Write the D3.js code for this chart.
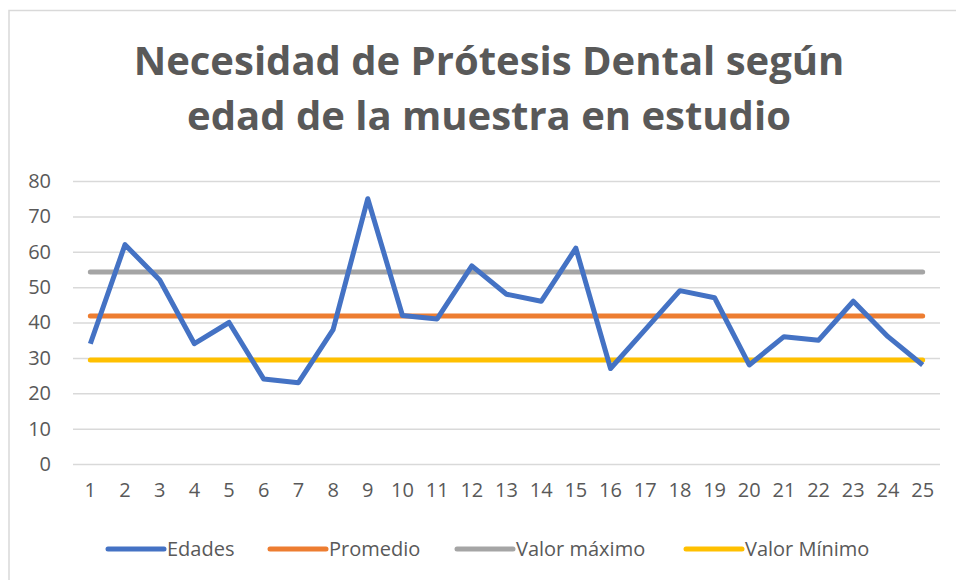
<!DOCTYPE html>
<html lang="es">
<head>
<meta charset="utf-8">
<title>Necesidad de Prótesis Dental según edad</title>
<script src="https://cdnjs.cloudflare.com/ajax/libs/d3/7.8.5/d3.min.js"></script>
<style>
  body { margin: 0; background: #fff; }
  text { font-family: "Open Sans", "Noto Sans", sans-serif; }
</style>
</head>
<body>
<script>
// data
var muestras = ["1","2","3","4","5","6","7","8","9","10","11","12","13","14","15","16","17","18","19","20","21","22","23","24","25"];
var edades = [34, 62, 52, 34, 40, 24, 23, 38, 75, 42, 41, 56, 48, 46, 61, 27, 38, 49, 47, 28, 36, 35, 46, 36, 28];
var promedio = [41.84, 41.84, 41.84, 41.84, 41.84, 41.84, 41.84, 41.84, 41.84, 41.84, 41.84, 41.84, 41.84, 41.84, 41.84, 41.84, 41.84, 41.84, 41.84, 41.84, 41.84, 41.84, 41.84, 41.84, 41.84];
var valorMax = [54.3, 54.3, 54.3, 54.3, 54.3, 54.3, 54.3, 54.3, 54.3, 54.3, 54.3, 54.3, 54.3, 54.3, 54.3, 54.3, 54.3, 54.3, 54.3, 54.3, 54.3, 54.3, 54.3, 54.3, 54.3];
var valorMin = [29.4, 29.4, 29.4, 29.4, 29.4, 29.4, 29.4, 29.4, 29.4, 29.4, 29.4, 29.4, 29.4, 29.4, 29.4, 29.4, 29.4, 29.4, 29.4, 29.4, 29.4, 29.4, 29.4, 29.4, 29.4];
var yTicks = [0, 10, 20, 30, 40, 50, 60, 70, 80];
var seriesNames = ["Edades", "Promedio", "Valor máximo", "Valor Mínimo"];

var w = 956, h = 580;
var textColor = "#595959";

var series = [
  { name: seriesNames[0], values: edades, color: "#4472C4", cap: "butt" },
  { name: seriesNames[1], values: promedio, color: "#ED7D31", cap: "round" },
  { name: seriesNames[2], values: valorMax, color: "#A5A5A5", cap: "round" },
  { name: seriesNames[3], values: valorMin, color: "#FFC000", cap: "round" }
];

var svg = d3.select("body").append("svg")
  .attr("width", w)
  .attr("height", h);

svg.append("rect").attr("width", w).attr("height", h).attr("fill", "#fff");

// chart frame (only top/left edges are visible in the picture)
svg.append("rect")
  .attr("x", 9).attr("y", 10.5)
  .attr("width", w + 20).attr("height", h + 20)
  .attr("fill", "none")
  .attr("stroke", "#D9D9D9")
  .attr("stroke-width", 1.5);

// title
var title = svg.append("text")
  .attr("text-anchor", "middle")
  .attr("fill", textColor)
  .style("font-weight", "bold")
  .style("font-size", "40px");
title.append("tspan").attr("x", 489).attr("y", 75).text("Necesidad de Prótesis Dental según");
title.append("tspan").attr("x", 489).attr("y", 130).text("edad de la muestra en estudio");

// scales
var x = d3.scaleBand().domain(muestras).range([73, 940]);
var y = d3.scaleLinear().domain([0, 80]).range([464, 181]);

var px = function(i) { return x(muestras[i]) + x.bandwidth() / 2; };

// gridlines
svg.append("g")
  .attr("transform", "translate(73,0)")
  .call(d3.axisLeft(y).tickValues(yTicks).tickSize(-867).tickFormat(""))
  .call(function(g) {
    g.select(".domain").remove();
    g.selectAll("line").attr("stroke", "#D9D9D9").attr("stroke-width", 1.5);
  });

// y labels
svg.append("g")
  .attr("transform", "translate(51,0)")
  .call(d3.axisLeft(y).tickValues(yTicks).tickSize(0).tickPadding(0))
  .call(function(g) {
    g.select(".domain").remove();
    g.selectAll("text")
      .attr("fill", textColor)
      .style("font-size", "20px")
      .style("font-family", "'Open Sans', sans-serif");
  });

// x labels
svg.append("g")
  .attr("transform", "translate(0,480)")
  .call(d3.axisBottom(x).tickSize(0).tickPadding(3))
  .call(function(g) {
    g.select(".domain").remove();
    g.selectAll("text")
      .attr("fill", textColor)
      .style("font-size", "20px")
      .style("font-family", "'Open Sans', sans-serif");
  });

// lines
var line = d3.line()
  .x(function(d, i) { return px(i); })
  .y(function(d) { return y(d); });

svg.selectAll("path.serie")
  .data(series.slice().reverse())
  .enter()
  .append("path")
  .attr("class", "serie")
  .attr("d", function(d) { return line(d.values); })
  .attr("fill", "none")
  .attr("stroke", function(d) { return d.color; })
  .attr("stroke-width", 5)
  .attr("stroke-linecap", function(d) { return d.cap; })
  .attr("stroke-linejoin", "round");

// legend
var legendX = [108, 270, 457, 686];
var legend = svg.selectAll("g.legend")
  .data(series)
  .enter()
  .append("g")
  .attr("class", "legend")
  .attr("transform", function(d, i) { return "translate(" + legendX[i] + ",549)"; });

legend.append("line")
  .attr("x1", 0).attr("x2", 56)
  .attr("stroke", function(d) { return d.color; })
  .attr("stroke-width", 5)
  .attr("stroke-linecap", "round");

legend.append("text")
  .attr("x", 59)
  .attr("dy", "0.35em")
  .attr("fill", textColor)
  .style("font-size", "20px")
  .text(function(d) { return d.name; });
</script>
</body>
</html>
